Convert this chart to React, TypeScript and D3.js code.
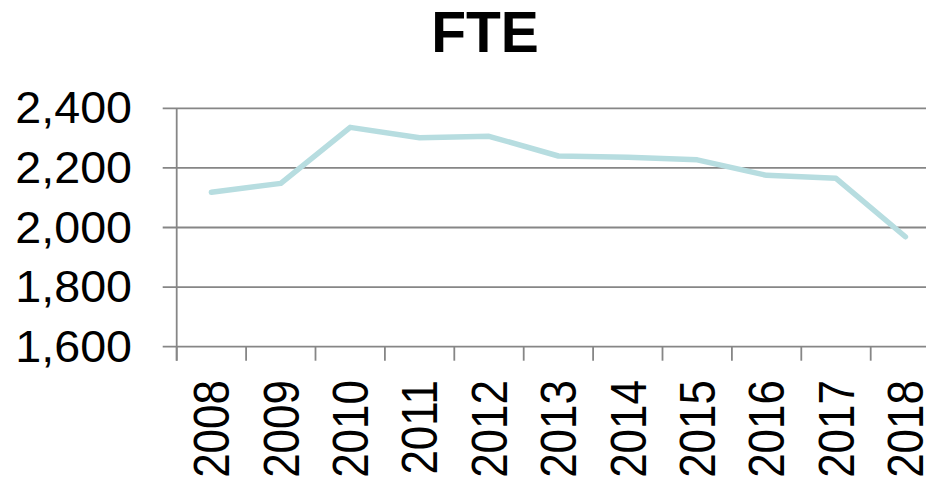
import { useEffect, useRef } from 'react'
import * as d3 from 'd3'

const years = ['2008', '2009', '2010', '2011', '2012', '2013', '2014', '2015', '2016', '2017', '2018']
const fte = [2118, 2148, 2336, 2301, 2306, 2240, 2236, 2227, 2175, 2165, 1969]
const yTicks = [1600, 1800, 2000, 2200, 2400]
const title = 'FTE'

const App = () => {
  const svgRef = useRef<SVGSVGElement | null>(null)

  useEffect(() => {
    if (!svgRef.current) return
    const svg = d3.select(svgRef.current)
    svg.selectAll('*').remove()

    const width = 926
    const height = 486
    const left = 176.7
    const band = 69.4
    const top = 108.3
    const bottom = 346.7
    const grid = '#868686'
    const font = '"Liberation Sans", Arial, sans-serif'

    svg.attr('viewBox', `0 0 ${width} ${height}`)

    const x = d3
      .scaleBand<string>()
      .domain(years)
      .range([left, left + band * years.length])

    const y = d3.scaleLinear().domain([1600, 2400]).range([bottom, top])

    // gridlines + y ticks
    svg
      .append('g')
      .selectAll('line')
      .data(yTicks)
      .enter()
      .append('line')
      .attr('x1', left - 14)
      .attr('x2', left + band * years.length)
      .attr('y1', (d) => y(d))
      .attr('y2', (d) => y(d))
      .attr('stroke', grid)
      .attr('stroke-width', 1.8)

    // x ticks at band edges
    const edges = years.map((yr) => x(yr)!).concat([left + band * years.length])
    svg
      .append('g')
      .selectAll('line')
      .data(edges)
      .enter()
      .append('line')
      .attr('x1', (d) => d)
      .attr('x2', (d) => d)
      .attr('y1', bottom)
      .attr('y2', bottom + 14)
      .attr('stroke', grid)
      .attr('stroke-width', 1.8)

    // y axis line
    svg
      .append('line')
      .attr('x1', left)
      .attr('x2', left)
      .attr('y1', top)
      .attr('y2', bottom + 14)
      .attr('stroke', grid)
      .attr('stroke-width', 1.8)

    // y labels
    svg
      .append('g')
      .selectAll('text')
      .data(yTicks)
      .enter()
      .append('text')
      .attr('transform', (d) => `translate(132,${y(d)}) scale(1.06,1)`)
      .attr('text-anchor', 'end')
      .attr('dominant-baseline', 'central')
      .attr('font-family', font)
      .attr('font-size', 44)
      .attr('fill', '#000')
      .text((d) => d3.format(',')(d))

    // x labels (rotated)
    svg
      .append('g')
      .selectAll('text')
      .data(years)
      .enter()
      .append('text')
      .attr('transform', (d) => `translate(${x(d)! + x.bandwidth() / 2 + 1},380) rotate(-90) scale(1,1.12)`)
      .attr('text-anchor', 'end')
      .attr('dominant-baseline', 'central')
      .attr('font-family', font)
      .attr('font-size', 44)
      .attr('fill', '#000')
      .text((d) => d)

    // line
    const line = d3
      .line<number>()
      .x((_, i) => x(years[i])! + x.bandwidth() / 2)
      .y((d) => y(d))

    svg
      .append('path')
      .datum(fte)
      .attr('fill', 'none')
      .attr('stroke', '#b7dde0')
      .attr('stroke-width', 5.5)
      .attr('stroke-linecap', 'round')
      .attr('stroke-linejoin', 'round')
      .attr('d', line)

    // title
    svg
      .append('text')
      .attr('x', 485)
      .attr('y', 52)
      .attr('text-anchor', 'middle')
      .attr('font-family', font)
      .attr('font-weight', 'bold')
      .attr('font-size', 57)
      .attr('fill', '#000')
      .text(title)
  }, [])

  return (
    <svg
      ref={svgRef}
      width={926}
      height={486}
      style={{ position: 'absolute', left: 0, top: 0, background: '#fff' }}
    />
  )
}

export default App
